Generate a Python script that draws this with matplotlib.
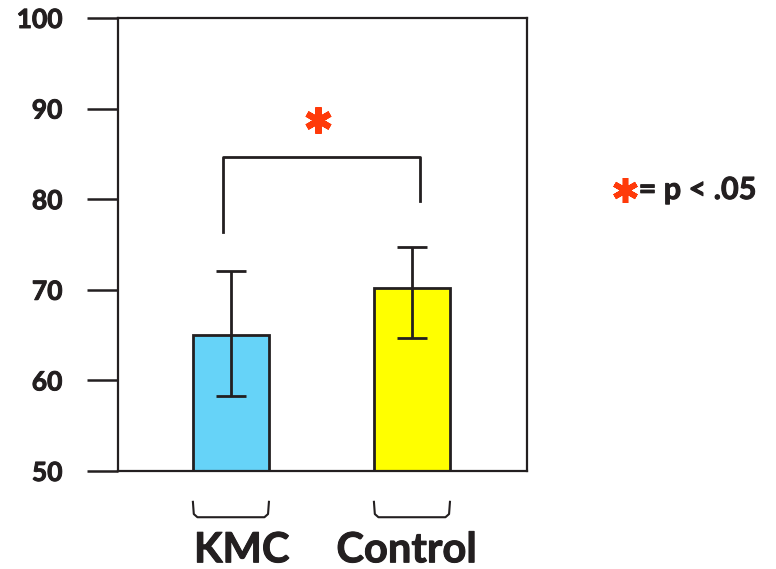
import matplotlib.pyplot as plt
import matplotlib.patheffects as pe
from matplotlib.transforms import blended_transform_factory

# data
groups = ["KMC", "Control"]
means = [65.0, 70.2]
err_low = [6.7, 5.5]
err_high = [7.1, 4.5]
bar_colors = ["#66D3F8", "#FFFF00"]
yticks = [50, 60, 70, 80, 90, 100]
sig_left, sig_right, sig_top = 76.4, 79.8, 84.7

ink = "#231F20"
star_col = "#FF3A0A"
plt.rcParams['font.family'] = ['Lato', 'DejaVu Sans']
plt.rcParams['font.weight'] = 'bold'
# Calibri bold looks a bit heavier than Lato bold
thick = [pe.withStroke(linewidth=0.7, foreground=ink)]

fig = plt.figure(figsize=(7.76, 5.69), dpi=100)
ax = fig.add_axes([0.152, 0.1722, 0.527, 0.7962])

x = list(range(len(groups)))
ax.bar(x, means, width=0.42, color=bar_colors, edgecolor=ink, linewidth=2, zorder=2)
ax.errorbar(x, means, yerr=[err_low, err_high], fmt='none', ecolor=ink,
            elinewidth=2, capsize=11, capthick=2, zorder=3)

ax.set_xlim(-0.624, 1.635)
ax.set_ylim(50, 100)
ax.set_yticks(yticks)
ax.set_xticks([])
ax.tick_params(axis='y', length=22, width=1.8, pad=18, labelsize=19, colors=ink)
for lab in ax.get_yticklabels():
    lab.set_fontweight('bold')
    lab.set_path_effects(thick)
for sp in ax.spines.values():
    sp.set_linewidth(1.6)
    sp.set_color(ink)

# significance bracket
xl, xr = x[0] - 0.044, x[1] + 0.044
ax.plot([xl, xl, xr, xr], [sig_left, sig_top, sig_top, sig_right],
        color=ink, lw=2, zorder=3)
ax.plot([(xl + xr) / 2 - 0.02], [88.7], marker=(6, 2, 0), markersize=19,
        markeredgewidth=4.5, color=star_col, linestyle='none')

# group brackets and labels under the axis
tr = blended_transform_factory(ax.transData, ax.transAxes)
for xi, name in zip(x, groups):
    a, b = xi - 0.21, xi + 0.21
    ax.plot([a, a + 0.005, a + 0.025, b - 0.025, b - 0.005, b],
            [-0.068, -0.095, -0.102, -0.102, -0.095, -0.068],
            transform=tr, clip_on=False, color=ink, lw=1.5)
ax.text(x[0] + 0.06, -0.175, groups[0], transform=tr, ha='center', va='center',
        fontsize=30, fontweight='bold', color=ink, path_effects=thick)
ax.text(x[1] - 0.03, -0.175, groups[1], transform=tr, ha='center', va='center',
        fontsize=30, fontweight='bold', color=ink, path_effects=thick)

# legend note
fig.lines.append(plt.Line2D([0.806], [0.666], marker=(6, 2, 0), markersize=18,
                            markeredgewidth=4, color=star_col,
                            transform=fig.transFigure))
fig.text(0.823, 0.666, "= p < .05", ha='left', va='center', fontsize=22,
         fontweight='bold', color=ink, path_effects=thick)

fig.savefig("out.png", dpi=100)
